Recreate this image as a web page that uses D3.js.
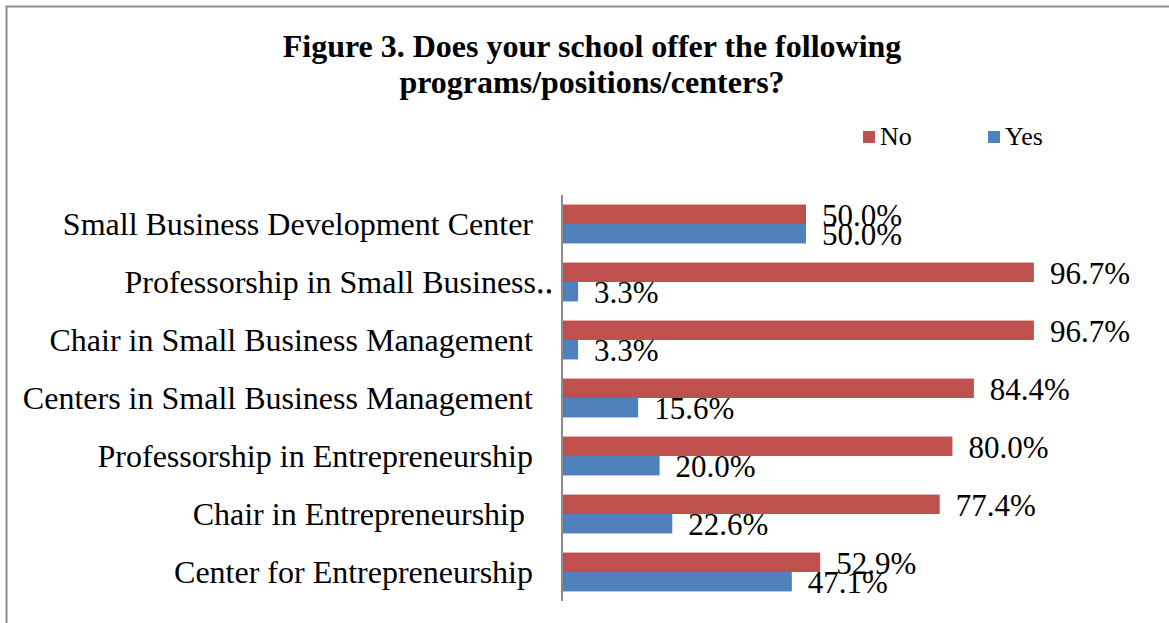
<!DOCTYPE html>
<html>
<head>
<meta charset="utf-8">
<script src="https://cdn.jsdelivr.net/npm/d3@7"></script>
<style>
  html, body { margin: 0; padding: 0; background: #fff; }
  svg { display: block; }
  text { font-family: "Liberation Serif", "Times New Roman", serif; fill: #000; }
</style>
</head>
<body>
<svg id="chart" width="1169" height="623"></svg>
<script>
// Survey categories, top to bottom
const categories = [
  "Small Business Development Center",
  "Professorship in Small Business\u2025",
  "Chair in Small Business Management",
  "Centers in Small Business Management",
  "Professorship in Entrepreneurship",
  "Chair in Entrepreneurship",
  "Center for Entrepreneurship"
];
// Share of responding schools (%)
const noValues  = [50.0, 96.7, 96.7, 84.4, 80.0, 77.4, 52.9];
const yesValues = [50.0, 3.3, 3.3, 15.6, 20.0, 22.6, 47.1];
const seriesNames = ["No", "Yes"];
const seriesColors = ["#C0504D", "#4F81BD"];
const titleLines = [
  "Figure 3. Does your school offer the following",
  "programs/positions/centers?"
];

const svg = d3.select("#chart");
const W = 1169, H = 623;

// Outer frame
svg.append("rect")
  .attr("x", 6.5).attr("y", 6.5)
  .attr("width", W + 10).attr("height", H + 10)
  .attr("fill", "none").attr("stroke", "#8c8c8c").attr("stroke-width", 2);

// Title
svg.append("g").selectAll("text").data(titleLines).join("text")
  .attr("x", 592).attr("y", (d, i) => 57 + i * 36)
  .attr("text-anchor", "middle")
  .style("font-weight", "bold").style("font-size", "32px")
  .text(d => d);

// Scales
const plotLeft = 562, plotTop = 195, plotBottom = 601;
const x = d3.scaleLinear().domain([0, 100]).range([plotLeft, plotLeft + 488]);
const y = d3.scaleBand().domain(categories).range([plotTop, plotBottom]).paddingInner(0.33).paddingOuter(0.165);
const sub = d3.scaleBand().domain(seriesNames).range([0, y.bandwidth()]);

const rows = categories.map((c, i) => ({ c, vals: [noValues[i], yesValues[i]] }));

const g = svg.append("g");
const rowG = g.selectAll("g.row").data(rows).join("g")
  .attr("class", "row")
  .attr("transform", d => `translate(0,${y(d.c)})`);

rowG.selectAll("rect").data(d => d.vals.map((v, k) => ({ v, k }))).join("rect")
  .attr("x", x(0))
  .attr("y", d => sub(seriesNames[d.k]))
  .attr("width", d => x(d.v) - x(0))
  .attr("height", sub.bandwidth())
  .attr("fill", d => seriesColors[d.k]);

rowG.selectAll("text.val").data(d => d.vals.map((v, k) => ({ v, k }))).join("text")
  .attr("class", "val")
  .attr("x", d => x(d.v) + 16)
  .attr("y", d => sub(seriesNames[d.k]) + sub.bandwidth() / 2 + 11.5)
  .style("font-size", "31px")
  .text(d => d.v.toFixed(1) + "%");

// Category axis
const yAxis = d3.axisLeft(y).tickSize(0).tickPadding(29);
const ax = svg.append("g").attr("transform", `translate(${plotLeft},0)`).call(yAxis);
ax.select(".domain").attr("stroke", "#8c8c8c").attr("stroke-width", 2)
  .attr("d", `M0,${plotTop}V${plotBottom}`);
ax.selectAll(".tick text")
  .style("font-family", '"Liberation Serif", "Times New Roman", serif')
  .style("font-size", "32px").attr("fill", "#000")
  .attr("dy", "10.5px")
  .attr("dx", (d, i) => i === 1 ? 20 : (i === 5 ? -8 : 0));

// Legend
const legend = svg.append("g").attr("transform", "translate(863,131)");
const items = legend.selectAll("g").data(seriesNames).join("g")
  .attr("transform", (d, i) => `translate(${i * 125},0)`);
items.append("rect").attr("width", 12).attr("height", 12).attr("fill", (d, i) => seriesColors[i]);
items.append("text").attr("x", 17).attr("y", 14).style("font-size", "26px").text(d => d);
</script>
</body>
</html>
